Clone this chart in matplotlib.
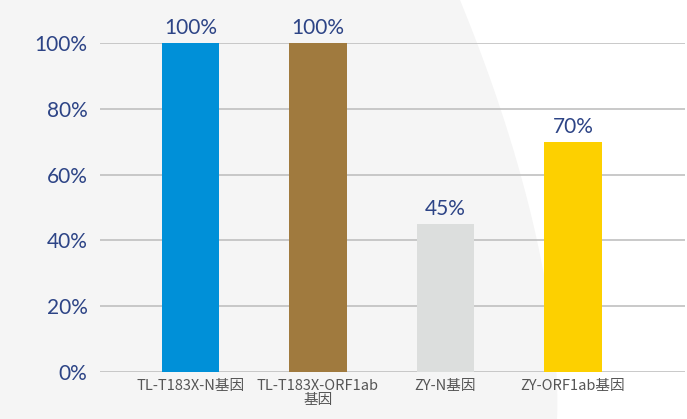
import matplotlib.pyplot as plt
import numpy as np

plt.rcParams['font.family'] = ['Lato', 'Noto Sans CJK SC', 'DejaVu Sans']

# data
categories = ['TL-T183X-N基因', 'TL-T183X-ORF1ab\n基因', 'ZY-N基因', 'ZY-ORF1ab基因']
values = [100, 100, 45, 70]
colors = ['#0090d8', '#a07a3e', '#dcdedd', '#fdd000']
yticks = [0, 20, 40, 60, 80, 100]

fig = plt.figure(figsize=(6.87, 4.19), dpi=100)
fig.patch.set_facecolor('white')

# decorative background: light gray on left, white region bounded by a curve
bg = fig.add_axes([0, 0, 1, 1])
bg.set_xlim(0, 687)
bg.set_ylim(419, 0)
bg.axis('off')
cy = np.linspace(0, 419, 100)
cx = 460 + 125 * (1 - (1 - cy / 419) ** 1.6) - 28 * (cy / 419)
bg.fill_betweenx(cy, 0, cx, color='#f5f5f5', lw=0)

ax = fig.add_axes([100 / 687, 1 - 372 / 419, 585 / 687, (372 - 43) / 419])
ax.patch.set_alpha(0)
x = np.arange(len(categories))
bars = ax.bar(x, values, width=0.45, color=colors, zorder=3)
for xi, v in zip(x, values):
    ax.text(xi, v + 1.5, f'{v}%', ha='center', va='bottom', fontsize=15, color='#2d4486')

ax.set_xlim(-0.71, 3.88)
ax.set_ylim(0, 100)
ax.set_yticks(yticks)
ax.set_yticklabels([f'{t}%' for t in yticks], fontsize=15, color='#2d4486')
ax.set_xticks(x)
ax.set_xticklabels(categories, fontsize=10.5, color='#555555',
                   family=['Noto Sans CJK SC', 'DejaVu Sans'], linespacing=1.05)
ax.tick_params(axis='both', length=0)
ax.tick_params(axis='y', pad=9)
ax.tick_params(axis='x', pad=5)
ax.grid(axis='y', color='#c0c0c0', lw=1.2, zorder=1)
for s in ax.spines.values():
    s.set_visible(False)

fig.savefig('out.png', dpi=100)
